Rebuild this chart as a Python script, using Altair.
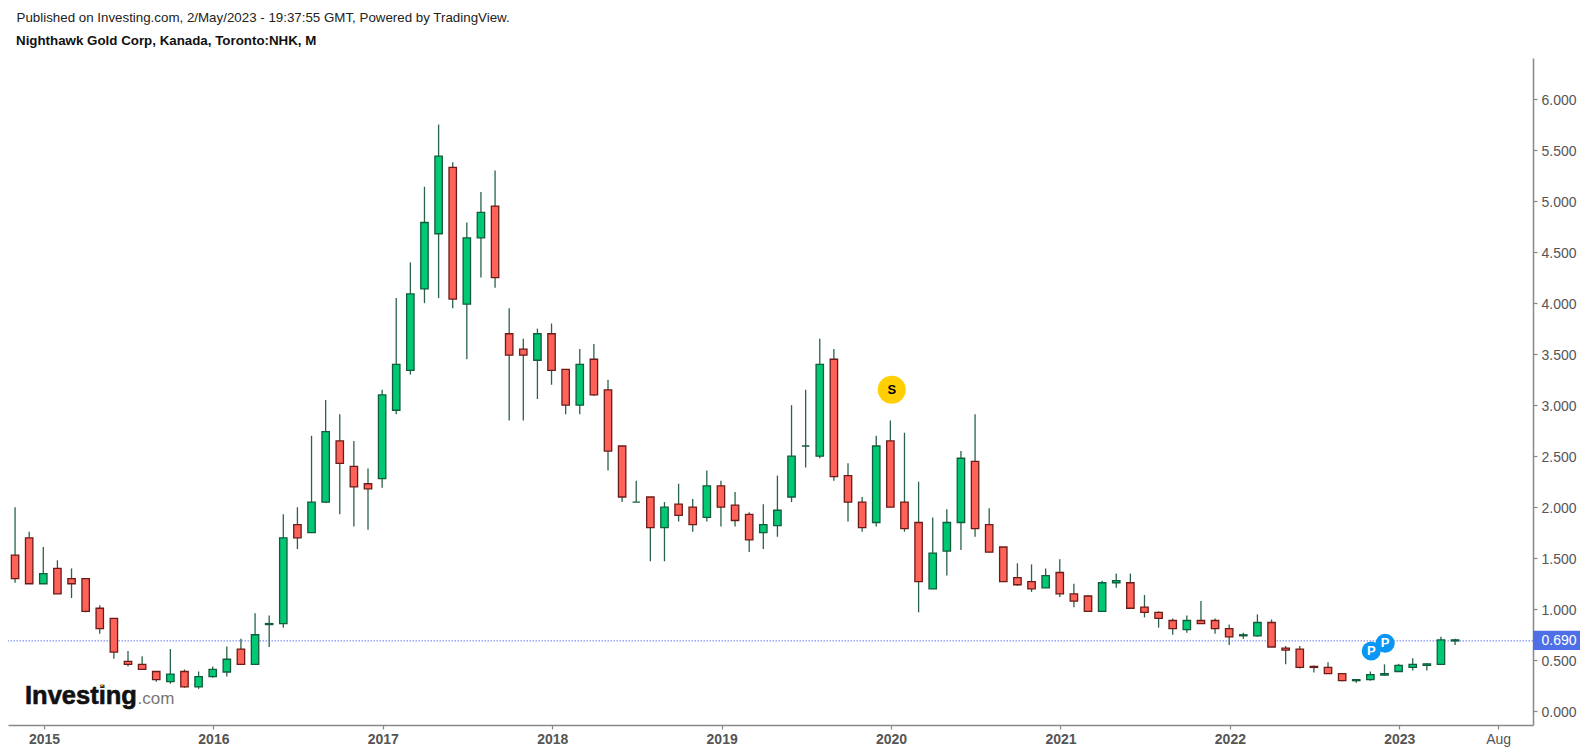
import altair as alt
import pandas as pd

FONT = "Liberation Sans"

opens = [1.53,1.70,1.25,1.40,1.30,1.30,1.01,0.91,0.49,0.46,0.39,0.29,0.39,0.24,0.34,0.385,0.61,0.46,0.85,0.86,
         1.83,1.75,2.05,2.65,2.40,2.23,2.28,2.95,3.34,4.14,4.68,5.33,3.99,4.64,4.95,3.70,3.55,3.44,3.70,3.35,
         3.00,3.45,3.15,2.60,2.05,2.10,1.80,2.03,2.00,1.90,2.21,2.02,1.93,1.75,1.82,2.10,2.60,2.50,3.45,2.31,
         2.05,1.85,2.65,2.05,1.85,1.20,1.57,1.85,2.45,1.83,1.61,1.31,1.27,1.21,1.36,1.15,1.13,0.98,1.26,1.26,
         1.02,0.97,0.89,0.80,0.89,0.89,0.81,0.74,0.74,0.87,0.62,0.61,0.44,0.43,0.37,0.30,0.31,0.355,0.39,0.43,
         0.45,0.46,0.69]
closes = [1.30,1.25,1.35,1.15,1.25,0.98,0.81,0.58,0.46,0.41,0.31,0.365,0.24,0.34,0.41,0.51,0.46,0.75,0.86,1.70,
          1.70,2.05,2.74,2.43,2.20,2.18,3.10,3.40,4.09,4.79,5.44,4.04,4.64,4.89,4.25,3.49,3.49,3.70,3.34,3.00,
          3.40,3.10,2.55,2.10,2.05,1.80,2.00,1.92,1.83,2.21,2.00,1.87,1.68,1.83,1.97,2.50,2.60,3.40,2.30,2.05,
          1.80,2.60,2.00,1.79,1.27,1.55,1.85,2.48,1.79,1.56,1.27,1.24,1.20,1.33,1.15,1.08,0.98,1.26,1.28,1.01,
          0.97,0.91,0.81,0.89,0.86,0.81,0.73,0.75,0.87,0.63,0.60,0.43,0.43,0.37,0.30,0.31,0.36,0.37,0.45,0.46,
          0.465,0.70,0.70]
highs = [2.00,1.76,1.61,1.48,1.40,1.30,1.04,0.91,0.59,0.54,0.39,0.61,0.41,0.39,0.44,0.635,0.71,0.96,0.94,1.93,
         2.00,2.70,3.05,2.91,2.65,2.38,3.15,4.05,4.40,5.14,5.75,5.38,4.79,5.09,5.30,3.95,3.65,3.75,3.80,3.35,
         3.55,3.60,3.25,2.60,2.26,2.10,2.05,2.23,2.08,2.36,2.26,2.15,1.95,2.03,2.31,3.00,3.15,3.65,3.55,2.43,
         2.10,2.70,2.85,2.73,2.25,1.90,1.98,2.55,2.91,1.99,1.61,1.45,1.44,1.40,1.49,1.25,1.14,1.28,1.35,1.35,
         1.14,0.98,0.91,0.94,1.08,0.91,0.85,0.77,0.95,0.90,0.64,0.64,0.45,0.48,0.37,0.315,0.39,0.46,0.465,0.52,
         0.47,0.73,0.71]
lows = [1.26,1.25,1.25,1.15,1.11,0.97,0.76,0.515,0.44,0.41,0.29,0.27,0.23,0.22,0.33,0.34,0.46,0.46,0.63,0.82,
        1.59,1.75,2.04,1.93,1.81,1.78,2.19,2.91,3.30,4.00,4.05,3.95,3.45,4.25,4.15,2.85,2.85,3.06,3.20,2.91,
        2.91,3.09,2.36,2.05,2.05,1.47,1.47,1.86,1.76,1.86,1.81,1.81,1.56,1.59,1.71,2.05,2.39,2.48,2.26,1.86,
        1.76,1.81,2.00,1.76,0.97,1.20,1.33,1.58,1.71,1.56,1.27,1.23,1.17,1.21,1.12,1.02,0.98,0.98,1.21,1.01,
        0.92,0.82,0.75,0.77,0.86,0.76,0.65,0.71,0.73,0.63,0.46,0.42,0.38,0.365,0.295,0.28,0.30,0.35,0.39,0.40,
        0.40,0.46,0.65]

y_ticks = [0, 0.5, 1, 1.5, 2, 2.5, 3, 3.5, 4, 4.5, 5, 5.5, 6]
x_ticks = [2.05, 14.05, 26.05, 38.05, 50.05, 62.05, 74.05, 86.05, 98.05, 105.05]
x_dom = [-0.5, 107.52]
y_dom = [-0.1342, 6.402]
last_price = 0.69

df = pd.DataFrame({"i": range(len(opens)), "o": opens, "c": closes, "h": highs, "l": lows})
df["d"] = ["up" if c >= o else "down" for o, c in zip(opens, closes)]

xs = alt.Scale(domain=x_dom, nice=False, zero=False, padding=0)
ys = alt.Scale(domain=y_dom, nice=False, zero=False, padding=0)

x_axis = alt.Axis(values=x_ticks, title=None, grid=False,
                  labelExpr="datum.value > 104 ? 'Aug' : toString(2015 + round((datum.value - 2) / 12))",
                  labelFontWeight=alt.expr("datum.value > 104 ? 'normal' : 'bold'"),
                  labelFont=FONT, labelFontSize=14, labelColor="#555555", labelPadding=3,
                  labelOverlap=False, labelFlush=False,
                  domainColor="#888888", domainWidth=1.5, tickColor="#888888", tickSize=4, tickWidth=1.2)
y_axis = alt.Axis(values=y_ticks, orient="right", format=".3f", title=None, grid=False,
                  labelFont=FONT, labelFontSize=14, labelColor="#555555", labelPadding=4, labelOffset=1,
                  domainColor="#888888", domainWidth=1.5, tickColor="#888888", tickSize=4, tickWidth=1.2)

X = alt.X("i:Q", scale=xs, axis=x_axis)
Y = alt.Y("v:Q", scale=ys, axis=y_axis)

price_line = alt.Chart(pd.DataFrame({"v": [last_price]})).mark_rule(
    color="#5f74e6", strokeWidth=1, strokeDash=[1.5, 1.5]).encode(y=Y)

wicks = alt.Chart(df).mark_rule(color="#2a6349", strokeWidth=1.3).encode(
    x=X,
    y=alt.Y("l:Q", scale=ys, axis=y_axis),
    y2="h:Q",
)

color_scale = alt.Scale(domain=["up", "down"], range=["#00c873", "#ff6259"])
stroke_scale = alt.Scale(domain=["up", "down"], range=["#125c3e", "#6b1c18"])
bodies = alt.Chart(df).mark_bar(size=7.4, strokeWidth=1.3, orient="vertical").encode(
    x=X,
    y=alt.Y("o:Q", scale=ys, axis=y_axis),
    y2="c:Q",
    fill=alt.Fill("d:N", scale=color_scale, legend=None),
    stroke=alt.Stroke("d:N", scale=stroke_scale, legend=None),
)

# signal markers
sig = pd.DataFrame({"i": [62.1, 96.06, 97.05], "v": [3.151, 0.591, 0.666],
                    "t": ["S", "P", "P"], "k": ["s", "p", "p"]})
sig_pts = alt.Chart(sig).mark_point(filled=True, opacity=1).encode(
    x=X, y=Y,
    size=alt.Size("k:N", scale=alt.Scale(domain=["s", "p"], range=[784, 361]), legend=None),
    fill=alt.Fill("k:N", scale=alt.Scale(domain=["s", "p"], range=["#ffcf03", "#0a96f5"]), legend=None),
)
sig_txt = alt.Chart(sig).mark_text(font=FONT, fontWeight="bold", fontSize=13, baseline="middle", align="center").encode(
    x=X, y=Y, text="t:N",
    color=alt.Color("k:N", scale=alt.Scale(domain=["s", "p"], range=["#000000", "#ffffff"]), legend=None),
)

# last-price tag on the right axis
tag = alt.Chart(pd.DataFrame({"i": [107.52], "i2": [110.85], "v": [0.79], "v2": [0.60]})).mark_rect(
    color="#4f6fe6").encode(x=X, x2="i2:Q", y=Y, y2="v2:Q")
tag_txt = alt.Chart(pd.DataFrame({"i": [108.12], "v": [last_price], "t": ["0.690"]})).mark_text(
    font=FONT, fontSize=14, color="#ffffff", align="left", baseline="middle").encode(x=X, y=Y, text="t:N")


def label(text, x, y, **kw):
    return alt.Chart(pd.DataFrame({"t": [text]})).mark_text(font=FONT, align="left", baseline="alphabetic", **kw).encode(
        x=alt.value(x), y=alt.value(y), text="t:N")


head1 = label("Published on Investing.com, 2/May/2023 - 19:37:55 GMT, Powered by TradingView.", 8.5, -36, fontSize=13.33, color="#222222")
head2 = label("Nighthawk Gold Corp, Kanada, Toronto:NHK, M", 8, -13, fontSize=13.33, fontWeight="bold", color="#111111")
logo1 = label("Investing", 17, 646, fontSize=25.5, fontWeight="bold", color="#111111", stroke="#111111", strokeWidth=0.6)
logo2 = label(".com", 129.5, 646, fontSize=17, color="#777777")
logo_dot = alt.Chart(pd.DataFrame({"a": [1]})).mark_point(filled=True, opacity=1, size=14, color="#f7a21b", shape="triangle-up").encode(
    x=alt.value(94), y=alt.value(627))

chart = alt.layer(price_line, wicks, bodies, sig_pts, sig_txt, tag, tag_txt, head1, head2, logo1, logo2, logo_dot).resolve_scale(
    fill="independent", stroke="independent", color="independent", size="independent"
).properties(
    width=1525, height=667,
    background="white",
    autosize=alt.AutoSizeParams(type="none"),
    padding={"left": 0, "top": 50, "right": 50, "bottom": 25},
).configure_view(stroke=None)

chart.save("out.html", embed_options={"renderer": "svg", "actions": False})
